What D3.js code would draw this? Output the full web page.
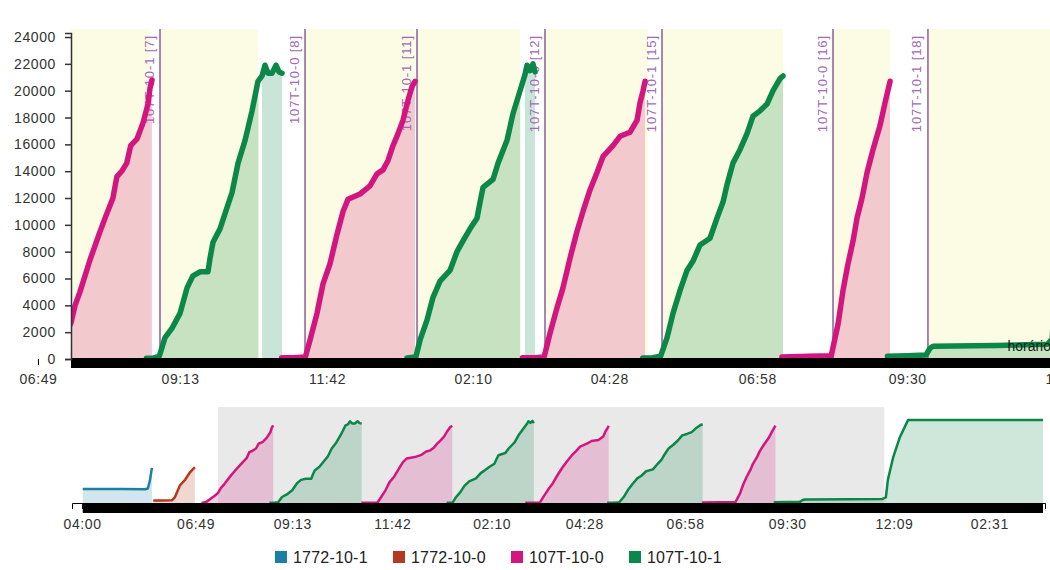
<!DOCTYPE html>
<html><head><meta charset="utf-8">
<script src="https://cdn.jsdelivr.net/npm/d3@7"></script>
<style>
body{margin:0;background:#fff;}
svg{display:block;font-family:"Liberation Sans",Arial,sans-serif;}
</style></head><body>
<svg id="chart" width="1050" height="570"></svg>
<script>
// ---------- DATA (time in minutes since 00:00 of day 1) ----------
const seriesNames  = ["1772-10-1", "1772-10-0", "107T-10-0", "107T-10-1"];
const seriesColors = ["#1c80a4", "#b4391e", "#d3167f", "#0b8747"];

const runs_1772_10_1 = [
  [[241,3750],[300,3750],[334,3700],[338,3900],[341,6000],[344,9400]]
];
const runs_1772_10_0 = [
  [[346,700],[360,700],[374,750],[378,1500],[386,4800],[393,6100],[401,8300],[408,9600]]
];
const runs_107T_10_0 = [
  [[418,0],[425,300],[432,1200],[438,2000],[442.5,2700],[446.6,4000],[451.6,5000],[461.8,7400],[471.9,9500],[477,10500],[485,12000],[489,13600],[494,14000],[499,14600],[503,15900],[509.4,16400],[515.5,17600],[520.5,19000],[522.6,20200],[524.6,20800]],
  [[656,100],[668,100],[680,150],[684.7,1400],[691.8,3400],[697.9,5600],[705,7100],[712.1,9300],[718.2,11000],[723.2,11900],[735.4,12300],[745.5,12900],[752.6,13800],[758.7,14100],[763.8,14800],[768.8,15900],[773.9,16800],[779,17800],[784.1,19300],[788.1,20300],[791.2,20700]],
  [[900,100],[912,100],[922,150],[927.9,1900],[935,3800],[941.1,5300],[948.2,7500],[955.3,9500],[961.4,11000],[968.5,12600],[975.6,13900],[981.7,15100],[991.8,15900],[998.9,16600],[1009,16900],[1016.2,17800],[1019.2,19100],[1022.3,20000],[1024.3,20700]],
  [[1163,150],[1190,200],[1213,250],[1219.9,2600],[1224.9,5100],[1230,7100],[1235.1,8800],[1239.1,10500],[1244.2,12000],[1249.3,13900],[1255.3,15600],[1262.4,17400],[1267.5,19100],[1272.6,20700]]
];
const runs_107T_10_1 = [
  [[519,50],[526,80],[532,200],[537.8,1600],[544.9,2300],[553,3400],[560.1,5300],[566.1,6200],[573.2,6500],[581.3,6500],[583.4,7500],[586.4,8700],[593.5,9700],[601.6,11500],[605.7,12400],[611.8,14600],[618.9,16300],[626,18500],[632,20700],[636.1,21100],[639.1,21900],[642.2,21300],[646.2,21300],[650.3,21900],[653.3,21400],[656.4,21300]],
  [[783,80],[792,150],[796.2,1400],[803.3,2900],[809.4,4600],[816.5,5800],[826.6,6600],[833.7,8000],[839.8,8800],[846.9,9700],[854,10500],[857.1,11700],[860.1,12800],[870.3,13400],[875.3,14600],[884.4,16300],[890.5,18300],[897.6,20000],[902.6,21200],[904.7,21900],[907.7,21500],[910.7,22000],[912.8,21400]],
  [[1022,80],[1032,100],[1040,200],[1046.6,1600],[1052.6,3400],[1059.7,5100],[1066.8,6600],[1072.9,7300],[1080,8500],[1090.1,9000],[1097.2,10500],[1103.3,11700],[1107.4,13000],[1113.4,14600],[1120.5,15600],[1127.6,16800],[1133.7,18100],[1140.8,18500],[1147.9,19000],[1154,20000],[1161.1,20900],[1164.1,21100]],
  [[1270,200],[1290,250],[1309,300],[1313.1,800],[1316.2,950],[1380,1000],[1432,1100],[1437,1500],[1440,6200],[1448,12300],[1458,17700],[1470,22200],[1671,22200]]
];
const seriesRuns = [runs_1772_10_1, runs_1772_10_0, runs_107T_10_0, runs_107T_10_1];

// gaps in fill (white stripes) [start, end] minutes
const fillGaps = [[632.5,636],[897.8,902.4]];

// scheduled windows (yellow bands) [start, end] minutes
const windows = [[418,522.6],[532.7,632],[679.7,791.2],[793.2,897.6],[922.9,1027.3],[1041.5,1164.1],[1214.8,1272.6],[1311,1671]];

// run markers
const markerTimes  = [532.7, 679.7, 793.2, 922.9, 1041.5, 1214.8, 1311];
const markerLabels = ["107T-10-1 [7]","107T-10-0 [8]","107T-10-1 [11]","107T-10-0 [12]","107T-10-1 [15]","107T-10-0 [16]","107T-10-1 [18]"];

// axis ticks
const timeTicks  = [240, 409, 553, 702, 850, 988, 1138, 1290, 1449, 1591];
const timeLabels = ["04:00","06:49","09:13","11:42","02:10","04:28","06:58","09:30","12:09","02:31"];
const yTicks = [0,2000,4000,6000,8000,10000,12000,14000,16000,18000,20000,22000,24000];

const focusExtent = [442.5, 1434.7];   // brushed window
const fullExtent  = [225, 1674];
const dataExtent  = [241, 1671];
const axisTitle = "horário";

// ---------- DRAW ----------
const svg = d3.select("#chart");
const xTop = d3.scaleLinear().domain(focusExtent).range([71, 1050]);
const yTop = d3.scaleLinear().domain([0, 24300]).range([359, 33]);
const xBot = d3.scaleLinear().domain(fullExtent).range([72, 1045]);
const yBot = d3.scaleLinear().domain([0, 24000]).range([503, 413.4]);

const labelOf = d => timeLabels[timeTicks.indexOf(d)];

const defs = svg.append("defs");
defs.append("clipPath").attr("id","clipTop").append("rect")
  .attr("x",71).attr("y",25).attr("width",979).attr("height",345);

// ===== TOP (focus) =====
const gTop = svg.append("g");
const plot = gTop.append("g").attr("clip-path","url(#clipTop)");

plot.selectAll("rect.win").data(windows).enter().append("rect")
  .attr("x", d=>xTop(d[0])).attr("width", d=>xTop(d[1])-xTop(d[0]))
  .attr("y", 29).attr("height", yTop(0)-29)
  .attr("fill", "#fbfce3");

seriesRuns.forEach((runs,i)=>{
  const area = d3.area().x(d=>xTop(d[0])).y0(yTop(0)).y1(d=>yTop(d[1]));
  plot.selectAll(null).data(runs).enter().append("path")
    .attr("d", area).attr("fill", seriesColors[i]).attr("fill-opacity", 0.22);
});

plot.selectAll("rect.gap").data(fillGaps).enter().append("rect")
  .attr("x", d=>xTop(d[0])).attr("width", d=>xTop(d[1])-xTop(d[0]))
  .attr("y", 60).attr("height", yTop(0)-60).attr("fill", "#fff");

plot.selectAll("line.mk").data(markerTimes).enter().append("line")
  .attr("x1", d=>xTop(d)).attr("x2", d=>xTop(d)).attr("y1", 29).attr("y2", yTop(0))
  .attr("stroke", "#8e5c9c").attr("stroke-width", 1.5);
plot.selectAll("text.mk").data(markerTimes).enter().append("text")
  .attr("transform", d=>`translate(${xTop(d)-6.5},35) rotate(-90)`)
  .attr("text-anchor","end").attr("font-size",13).attr("letter-spacing","0.9px")
  .attr("fill","#a06ab8").text((d,i)=>markerLabels[i]);

seriesRuns.forEach((runs,i)=>{
  const line = d3.line().x(d=>xTop(d[0])).y(d=>yTop(d[1]));
  plot.selectAll(null).data(runs).enter().append("path")
    .attr("d", line).attr("fill","none").attr("stroke", seriesColors[i])
    .attr("stroke-width", 5.5).attr("stroke-linejoin","round").attr("stroke-linecap","round");
});

// x axis (only ticks that fall near the focus window)
const topTicks = timeTicks.filter(t => xTop(t) > 0 && xTop(t) < 1080);
const xAxTop = gTop.append("g").attr("transform",`translate(0,${yTop(0)})`)
  .call(d3.axisBottom(xTop).tickValues(topTicks).tickFormat(labelOf).tickSize(6).tickPadding(9));
xAxTop.select(".domain").attr("stroke","#000");
xAxTop.selectAll("text").attr("font-size",14).attr("letter-spacing","0.6px").attr("fill","#333").attr("font-family","Liberation Sans, Arial, sans-serif");
xAxTop.selectAll(".tick line").attr("stroke","#000");

plot.append("rect").attr("x", xTop(dataExtent[0])).attr("width", xTop(dataExtent[1])-xTop(dataExtent[0]))
  .attr("y", yTop(0)-1).attr("height", 10).attr("fill","#000");

gTop.append("text").attr("x",1051).attr("y",351).attr("text-anchor","end")
  .attr("font-size",14).attr("fill","#1a1a1a").text(axisTitle);

// y axis
const yAx = gTop.append("g").attr("transform","translate(71,0)")
  .call(d3.axisLeft(yTop).tickValues(yTicks).tickFormat(d3.format("d")).tickSize(6).tickPadding(9));
yAx.select(".domain").attr("stroke","#333").attr("stroke-width",1.5);
yAx.selectAll(".tick line").attr("stroke","#333").attr("stroke-width",1.5);
yAx.selectAll("text").attr("font-size",14).attr("letter-spacing","0.6px").attr("fill","#333").attr("font-family","Liberation Sans, Arial, sans-serif");

// ===== BOTTOM (context) =====
const gBot = svg.append("g");
gBot.append("rect").attr("x", xBot(focusExtent[0])).attr("width", xBot(focusExtent[1])-xBot(focusExtent[0]))
  .attr("y", 407).attr("height", yBot(0)-407).attr("fill","#e9e9e9");

seriesRuns.forEach((runs,i)=>{
  const area = d3.area().x(d=>xBot(d[0])).y0(yBot(0)).y1(d=>yBot(d[1]));
  gBot.selectAll(null).data(runs).enter().append("path")
    .attr("d", area).attr("fill", seriesColors[i]).attr("fill-opacity", 0.2);
});
seriesRuns.forEach((runs,i)=>{
  const line = d3.line().x(d=>xBot(d[0])).y(d=>yBot(d[1]));
  gBot.selectAll(null).data(runs).enter().append("path")
    .attr("d", line).attr("fill","none").attr("stroke", seriesColors[i])
    .attr("stroke-width", 2.5).attr("stroke-linejoin","round");
});

const xAxBot = gBot.append("g").attr("transform",`translate(0,${yBot(0)})`)
  .call(d3.axisBottom(xBot).tickValues(timeTicks).tickFormat(labelOf).tickSize(6).tickPadding(10));
xAxBot.select(".domain").attr("stroke","#000");
xAxBot.selectAll("text").attr("font-size",14).attr("letter-spacing","0.6px").attr("fill","#333").attr("font-family","Liberation Sans, Arial, sans-serif");

gBot.append("rect").attr("x", xBot(dataExtent[0])).attr("width", xBot(dataExtent[1])-xBot(dataExtent[0]))
  .attr("y", yBot(0)).attr("height", 10).attr("fill","#000");

// ===== LEGEND =====
const leg = svg.append("g").attr("transform","translate(275,551)");
const li = leg.selectAll("g").data(seriesNames).enter().append("g")
  .attr("transform",(d,i)=>`translate(${i*118},0)`);
li.append("rect").attr("width",12).attr("height",12).attr("fill",(d,i)=>seriesColors[i]);
li.append("text").attr("x",18).attr("y",12).attr("font-size",16).attr("letter-spacing","0.2px").attr("fill","#222").text(d=>d);
</script>
</body></html>
